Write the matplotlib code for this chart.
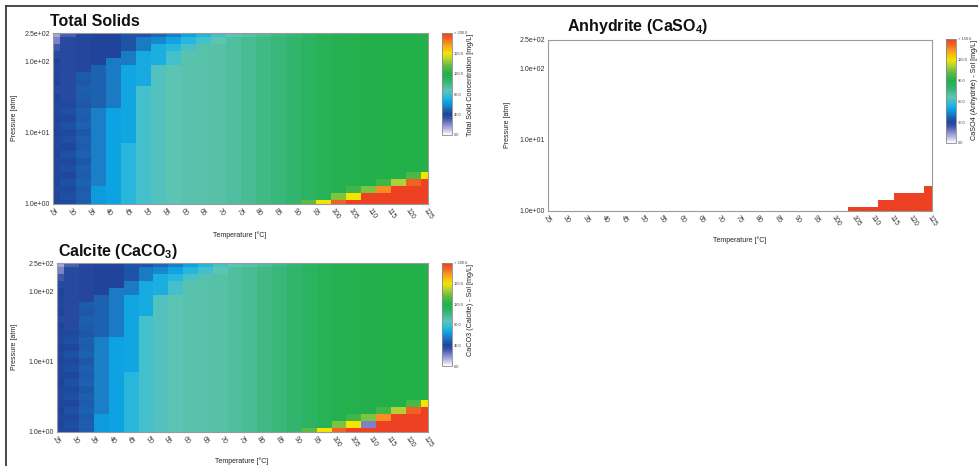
import numpy as np
import matplotlib
matplotlib.use("Agg")
import matplotlib.pyplot as plt
from matplotlib.colors import LinearSegmentedColormap, Normalize
from matplotlib.lines import Line2D

plt.rcParams['font.family'] = ['Liberation Sans', 'DejaVu Sans']
plt.rcParams['mathtext.fontset'] = 'custom'
plt.rcParams['mathtext.rm'] = 'Liberation Sans'
plt.rcParams['mathtext.bf'] = 'Liberation Sans:bold'

# ---------------- data ----------------
temperatures = [25, 29, 33, 37, 41, 45, 49, 53, 57, 61, 65, 69, 73,
                77, 81, 85, 89, 93, 97, 101, 105, 109, 113, 117, 121, 125]
pressures = [1.0, 1.259, 1.584, 1.994, 2.510, 3.159, 3.976, 5.005, 6.300,
             7.930, 9.98, 12.56, 15.81, 19.90, 25.05, 31.53, 39.69, 49.96,
             62.89, 79.16, 99.6, 125.4, 157.8, 198.6, 250.0]
xtick_labels = [25, 30, 35, 40, 45, 50, 55, 60, 65, 70, 75, 80, 85, 90,
                95, 100, 105, 110, 115, 120, 125]
ytick_values = [1.0, 10.0, 100.0, 250.0]
ytick_labels = ["1.0e+00", "1.0e+01", "1.0e+02", "2.5e+02"]

# Total solids [mg/L], first row = highest pressure (250 atm)
total_solids = [
    [15, 30, 39, 40, 40, 45, 45, 50, 56, 65, 73, 82, 88, 92, 96, 100, 104, 108, 113, 116, 118, 119, 120, 120, 120, 121],
    [22, 38, 39, 40, 40, 45, 55, 58, 66, 74, 80, 88, 94, 97, 100, 103, 107, 110, 113, 116, 118, 119, 120, 120, 120, 121],
    [32, 38, 39, 40, 40, 45, 55, 70, 74, 82, 91, 92, 94, 97, 100, 103, 107, 110, 113, 116, 118, 119, 120, 120, 120, 121],
    [38, 38, 39, 40, 40, 55, 68, 70, 80, 90, 91, 92, 94, 97, 100, 103, 107, 110, 113, 116, 118, 119, 120, 120, 120, 121],
    [40, 38, 39, 40, 55, 55, 68, 70, 80, 90, 91, 92, 94, 97, 100, 103, 107, 110, 113, 116, 118, 119, 120, 120, 120, 121],
    [39, 38, 39, 49, 55, 67, 68, 85, 88, 90, 91, 92, 94, 97, 100, 103, 107, 110, 113, 116, 118, 119, 120, 120, 120, 121],
    [41, 38, 47, 49, 55, 67, 68, 85, 88, 90, 91, 92, 94, 97, 100, 103, 107, 110, 113, 116, 118, 119, 120, 120, 120, 121],
    [40, 38, 46, 49, 55, 67, 68, 85, 88, 90, 91, 92, 94, 97, 100, 103, 107, 110, 113, 116, 118, 119, 120, 120, 120, 121],
    [38, 38, 48, 49, 55, 67, 80, 85, 88, 90, 91, 92, 94, 97, 100, 103, 107, 110, 113, 116, 118, 119, 120, 120, 120, 121],
    [40, 38, 47, 49, 55, 67, 80, 85, 88, 90, 91, 92, 94, 97, 100, 103, 107, 110, 113, 116, 118, 119, 120, 120, 120, 121],
    [41, 42, 46, 49, 55, 67, 80, 85, 88, 90, 91, 92, 94, 97, 100, 103, 107, 110, 113, 116, 118, 119, 120, 120, 120, 121],
    [39, 43, 48, 56, 65, 67, 80, 85, 88, 90, 91, 92, 94, 97, 100, 103, 107, 110, 113, 116, 118, 119, 120, 120, 120, 121],
    [40, 41, 47, 56, 65, 67, 80, 85, 88, 90, 91, 92, 94, 97, 100, 103, 107, 110, 113, 116, 118, 119, 120, 120, 120, 121],
    [42, 44, 49, 56, 65, 67, 80, 85, 88, 90, 91, 92, 94, 97, 100, 103, 107, 110, 113, 116, 118, 119, 120, 120, 120, 121],
    [40, 42, 46, 56, 65, 67, 80, 85, 88, 90, 91, 92, 94, 97, 100, 103, 107, 110, 113, 116, 118, 119, 120, 120, 120, 121],
    [39, 43, 48, 56, 65, 67, 80, 85, 88, 90, 91, 92, 94, 97, 100, 103, 107, 110, 113, 116, 118, 119, 120, 120, 120, 121],
    [41, 41, 47, 56, 65, 74, 80, 85, 88, 90, 91, 92, 94, 97, 100, 103, 107, 110, 113, 116, 118, 119, 120, 120, 120, 121],
    [40, 44, 49, 56, 65, 74, 80, 85, 88, 90, 91, 92, 94, 97, 100, 103, 107, 110, 113, 116, 118, 119, 120, 120, 120, 121],
    [42, 42, 46, 56, 65, 74, 80, 85, 88, 90, 91, 92, 94, 97, 100, 103, 107, 110, 113, 116, 118, 119, 120, 120, 120, 121],
    [39, 43, 48, 56, 65, 74, 80, 85, 88, 90, 91, 92, 94, 97, 100, 103, 107, 110, 113, 116, 118, 119, 120, 120, 120, 121],
    [41, 41, 47, 56, 65, 74, 80, 85, 88, 90, 91, 92, 94, 97, 100, 103, 107, 110, 113, 116, 118, 119, 120, 120, 130, 160],
    [40, 44, 49, 56, 65, 74, 80, 85, 88, 90, 91, 92, 94, 97, 100, 103, 107, 110, 113, 116, 118, 119, 128, 148, 190, 250],
    [42, 42, 47, 63, 65, 74, 80, 85, 88, 90, 91, 92, 94, 97, 100, 103, 107, 110, 113, 116, 128, 140, 180, 250, 250, 250],
    [40, 43, 48, 63, 65, 74, 80, 85, 88, 90, 91, 92, 94, 97, 100, 103, 107, 110, 113, 140, 160, 250, 250, 250, 250, 250],
    [41, 42, 47, 63, 65, 74, 80, 85, 88, 90, 91, 92, 94, 97, 100, 103, 107, 135, 160, 190, 250, 250, 250, 250, 250, 250],
]

# Calcite equals total solids except where read differently:
# (row from top, temperature index, value)
calcite_differences = [(23, 21, 22)]

# Anhydrite [mg/L]: zero everywhere except these cells
# (pressure index from bottom, temperature index, value)
anhydrite_cells = [(0, 20, 200), (0, 21, 200), (0, 22, 200), (0, 23, 200),
                   (0, 24, 200), (0, 25, 200),
                   (1, 22, 200), (1, 23, 200), (1, 24, 200), (1, 25, 200),
                   (2, 23, 200), (2, 24, 200), (2, 25, 200),
                   (3, 25, 200)]

# ---------------- colours ----------------
cmap_nodes = [
    (0, "#ffffff"), (12, "#b4b4e0"), (22, "#7d82c8"), (32, "#3a55a8"),
    (40, "#1f449a"), (48, "#1d5fae"), (56, "#1a80c8"), (64, "#0a9fe2"),
    (72, "#20b4e0"), (80, "#44bfcc"), (88, "#5ec4b4"), (96, "#4cbd98"),
    (104, "#36b676"), (112, "#28b25a"), (120, "#22b04a"), (136, "#60bc44"),
    (148, "#b0d036"), (160, "#f2e500"), (176, "#f8a41c"), (188, "#f26a24"),
    (200, "#ee4123"),
]
cmap = LinearSegmentedColormap.from_list(
    "scale", [(v / 200.0, c) for v, c in cmap_nodes])
cmap.set_over("#ee4123")

T = np.array(temperatures, dtype=float)
P = np.array(pressures, dtype=float)
t_edges = np.concatenate([[T[0]], (T[:-1] + T[1:]) / 2, [T[-1]]])
p_edges = np.concatenate([[P[0]], np.sqrt(P[:-1] * P[1:]), [P[-1]]])

total = np.array(total_solids, dtype=float)[::-1]          # bottom row first
calcite_top = np.array(total_solids, dtype=float)
for r, c, v in calcite_differences:
    calcite_top[r, c] = v
calcite = calcite_top[::-1]
anhydrite = np.zeros_like(total)
for r, c, v in anhydrite_cells:
    anhydrite[r, c] = v

fig = plt.figure(figsize=(9.79, 4.66), dpi=100)
W, H = 979.0, 466.0


def box(x0, y0, x1, y1):
    return [x0 / W, 1 - y1 / H, (x1 - x0) / W, (y1 - y0) / H]


def heat(ax_box, cax_box, data, vmax, cticks, cticklabels, clabel,
         title, title_xy, plab_xy, tlab_xy):
    ax = fig.add_axes(box(*ax_box))
    norm = Normalize(vmin=0, vmax=vmax)
    mesh = ax.pcolormesh(t_edges, p_edges, data, cmap=cmap, norm=norm,
                         shading="flat", edgecolors="none")
    ax.set_yscale("log")
    ax.set_xlim(25, 125)
    ax.set_ylim(1, 250)
    ax.set_xticks(xtick_labels)
    ax.set_xticklabels([str(v) for v in xtick_labels], rotation=-55,
                       ha="left", va="top", rotation_mode="anchor",
                       fontsize=5, color="#333333")
    ax.set_yticks(ytick_values)
    ax.set_yticklabels(ytick_labels, fontsize=5, color="#333333")
    ax.yaxis.set_minor_locator(matplotlib.ticker.NullLocator())
    ax.tick_params(length=0, pad=2)
    for s in ax.spines.values():
        s.set_color("#9a9a9a")
        s.set_linewidth(0.8)
    cax = fig.add_axes(box(*cax_box))
    cb = fig.colorbar(mesh, cax=cax)
    cb.set_ticks(cticks)
    cb.set_ticklabels(cticklabels)
    cb.outline.set_edgecolor("#8a8a8a")
    cb.outline.set_linewidth(0.6)
    cax.tick_params(length=0, pad=1.2, labelsize=2.9, colors="#444444")
    fig.text((cax_box[2] + 19) / W, 1 - (cax_box[1] + 1) / H, clabel,
             rotation=90, ha="center", va="top", fontsize=5.2,
             color="#222222")
    fig.text(title_xy[0] / W, 1 - title_xy[1] / H, title, fontsize=11.5,
             fontweight="bold", ha="left", va="baseline", color="#111111")
    fig.text(plab_xy[0] / W, 1 - plab_xy[1] / H, "Pressure [atm]",
             rotation=90, ha="center", va="center", fontsize=5,
             color="#222222")
    fig.text(tlab_xy[0] / W, 1 - tlab_xy[1] / H, "Temperature [°C]",
             ha="center", va="center", fontsize=5, color="#222222")
    return ax


heat((53, 33, 428, 204), (442, 33, 452, 135), total, 200,
     [0, 40, 80, 120, 160, 200],
     ["0.0", "40.0", "80.0", "120.0", "160.0", "> 200.0"],
     "Total Solid Concentration [mg/L]", "Total Solids", (50, 26),
     (14, 118), (240, 235))

heat((57, 263, 428, 432), (442, 263, 452, 366), calcite, 200,
     [0, 40, 80, 120, 160, 200],
     ["0.0", "40.0", "80.0", "120.0", "160.0", "> 200.0"],
     "CaCO3 (Calcite) - Sol [mg/L]", r"Calcite (CaCO$_\mathbf{3}$)",
     (58, 256), (15, 347), (242, 461))

heat((548, 40, 932, 211), (946, 39, 956, 143), anhydrite, 150,
     [0, 30, 60, 90, 120, 150],
     ["0.0", "30.0", "60.0", "90.0", "120.0", "> 150.0"],
     "CaSO4 (Anhydrite) - Sol [mg/L]", r"Anhydrite (CaSO$_\mathbf{4}$)",
     (567, 31), (508, 125), (740, 240))

# outer frame lines
fig.add_artist(Line2D([6 / W, 1.0], [1 - 6 / H, 1 - 6 / H],
                      transform=fig.transFigure, color="#3a3a3a", lw=1.3))
fig.add_artist(Line2D([6 / W, 6 / W], [0.0, 1 - 6 / H],
                      transform=fig.transFigure, color="#3a3a3a", lw=1.3))

fig.savefig("out.png", dpi=100)
